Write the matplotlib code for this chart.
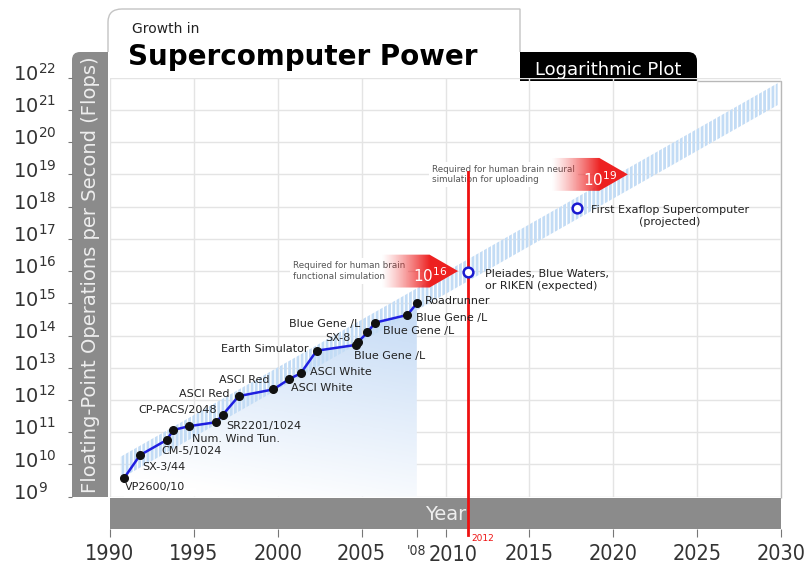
import numpy as np
import matplotlib
matplotlib.use("Agg")
import matplotlib.pyplot as plt
from matplotlib import font_manager
from matplotlib.patches import Polygon, PathPatch, Rectangle
from matplotlib.path import Path
from matplotlib.transforms import Affine2D, ScaledTranslation
from matplotlib.ticker import NullLocator

plt.rcParams["hatch.linewidth"] = 2.0

# supercomputer records (year, log10 flops)
years = [1990.83, 1991.79, 1993.38, 1993.78, 1994.73, 1996.32, 1996.72, 1997.67, 1999.74,
         2000.69, 2001.37, 2002.32, 2004.67, 2004.81, 2005.35, 2005.80, 2007.73, 2008.29]
log_flops = [9.57, 10.29, 10.76, 11.07, 11.19, 11.31, 11.54, 12.12, 12.33,
             12.65, 12.83, 13.53, 13.71, 13.81, 14.10, 14.40, 14.64, 15.00]

# (point index, text, ha, dx, dy) offsets in pixels
point_labels = [
    (0, "VP2600/10", "left", 1, -9),
    (1, "SX-3/44", "left", 2, -12),
    (2, "CM-5/1024", "left", -5, -11),
    (4, "Num. Wind Tun.", "left", 3, -13),
    (5, "SR2201/1024", "left", 10, -4),
    (6, "CP-PACS/2048", "right", -6, 5),
    (7, "ASCI Red", "right", -9, 2),
    (8, "ASCI Red", "right", -4, 9),
    (9, "ASCI White", "left", 2, -9),
    (10, "ASCI White", "left", 9, 1),
    (11, "Earth Simulator", "right", -8, 2),
    (12, "Blue Gene /L", "left", -2, -11),
    (13, "SX-8", "right", -8, 4),
    (14, "Blue Gene /L", "right", -7, 8),
    (15, "Blue Gene /L", "left", 8, -8),
    (16, "Blue Gene /L", "left", 9, -3),
    (17, "Roadrunner", "left", 8, 2),
]

future_years = [2011.37, 2017.83]
future_log = [15.97, 17.95]
future_labels = ["Pleiades, Blue Waters,\nor RIKEN (expected)",
                 "First Exaflop Supercomputer\n(projected)"]
future_offsets = [(17, -8), (14, -8)]

brain_levels = [16, 19]
brain_tips = [2010.75, 2020.87]
brain_texts = ["Required for human brain\nfunctional simulation",
               "Required for human brain neural\nsimulation for uploading"]

trend_years = [1990.6, 2029.8]
trend_log = [9.89, 21.49]

milestone_year = 2011.37
milestone_label = "2012"

x_ticks = list(range(1990, 2031, 5))
y_exps = list(range(9, 23))

W, H = 805, 568
fig = plt.figure(figsize=(W / 100, H / 100), dpi=100)
fig.patch.set_facecolor("white")
px = Affine2D().scale(1 / W, -1 / H).translate(0, 1) + fig.transFigure

# frame decorations
title_box = Path([(108, 52), (108, 22), (108, 9), (122, 9), (520, 9), (520, 52)],
                 [Path.MOVETO, Path.LINETO, Path.CURVE3, Path.CURVE3, Path.LINETO, Path.LINETO])
fig.patches.append(PathPatch(title_box, transform=px, fc="white", ec="#c4c4c4", lw=1, zorder=-2))
tab = Path([(520, 81), (520, 52), (688, 52), (697, 52), (697, 61), (697, 81), (520, 81)],
           [Path.MOVETO, Path.LINETO, Path.LINETO, Path.CURVE3, Path.CURVE3, Path.LINETO, Path.CLOSEPOLY])
fig.patches.append(PathPatch(tab, transform=px, fc="black", ec="none", zorder=-1))
ybar = Path([(72, 497), (72, 60), (72, 52), (80, 52), (108, 52), (108, 497), (72, 497)],
            [Path.MOVETO, Path.LINETO, Path.CURVE3, Path.CURVE3, Path.LINETO, Path.LINETO, Path.CLOSEPOLY])
fig.patches.append(PathPatch(ybar, transform=px, fc="#8b8b8b", ec="none", zorder=-1))
fig.patches.append(Rectangle((110, 498), 671, 31.3, transform=px, fc="#8b8b8b", ec="none", zorder=-1))
border = Path([(697, 81), (781, 81), (781, 498)])
fig.patches.append(PathPatch(border, transform=px, fc="none", ec="#b8b8b8", lw=1, zorder=-1))

fig.text(132, 33, "Growth in", transform=px, fontsize=10, color="#222222", va="baseline")
fig.text(128, 65, "Supercomputer Power", transform=px, fontsize=20, fontweight="bold",
         color="black", va="baseline")
fig.text(608, 75, "Logarithmic Plot", transform=px, fontsize=13, color="white",
         ha="center", va="baseline")
fig.text(90, 275, "Floating-Point Operations per Second (Flops)", transform=px, fontsize=14,
         color="#eeeeee", rotation=90, ha="center", va="center")

ax = fig.add_axes([110 / W, (H - 496.7) / H, 671 / W, 419 / H])
ax.set_facecolor("none")
ax.set_yscale("log")
ax.set_xlim(1990, 2030)
ax.set_ylim(1e9, 1e22)
for s in ax.spines.values():
    s.set_visible(False)
ax.spines["left"].set_position(("outward", 27.4))
ax.spines["bottom"].set_position(("outward", 23.4))

ax.set_yticks([10.0 ** k for k in y_exps])
ax.yaxis.set_minor_locator(NullLocator())
ax.tick_params(axis="y", labelleft=False, length=3, width=0.8, color="#777777")

# narrow upright face for the year labels, if one is installed
fonts = font_manager.fontManager.ttflist
narrow = [f for f in fonts if f.name == "Liberation Sans Narrow" and f.style == "normal"
          and f.weight in ("normal", 400, "regular", "book")]
cond = [f for f in fonts if f.name == "DejaVu Sans" and f.style == "normal"
        and f.stretch in ("condensed", "semi-condensed", 87.5)
        and f.weight in ("normal", 400, "regular", "book")]
if narrow:
    tick_fp = font_manager.FontProperties(fname=narrow[0].fname)
    tick_size = 16.5
elif cond:
    tick_fp = font_manager.FontProperties(fname=cond[0].fname)
    tick_size = 15.5
else:
    tick_fp = font_manager.FontProperties(family="DejaVu Sans")
    tick_size = 13
tick_fp.set_size(tick_size)
small_fp = tick_fp.copy()
small_fp.set_size(10)

ax.set_xticks(x_ticks, labels=["" if t == 2010 else str(t) for t in x_ticks])
ax.set_xticks([2008.3], labels=["'08"], minor=True)
ax.tick_params(axis="x", which="both", length=6, width=0.8, color="#777777", pad=5,
               labelcolor="#333333")
for lbl in ax.get_xticklabels():
    lbl.set_fontproperties(tick_fp)
for lbl in ax.get_xticklabels(minor=True):
    lbl.set_fontproperties(small_fp)
ax.text(2010, 0, "2010", transform=ax.get_xaxis_transform()
        + ScaledTranslation(8 / 100, -48 / 100, fig.dpi_scale_trans),
        ha="center", va="top", fontproperties=tick_fp, color="#333333")

ylab_tr = ax.get_yaxis_transform() + ScaledTranslation(-97 / 100, -3 / 100, fig.dpi_scale_trans)
for k in y_exps:
    ax.text(0, 10.0 ** k, f"$10^{{{k}}}$", transform=ylab_tr, ha="left", va="baseline",
            fontsize=14, color="#333333")

ax.grid(True, which="major", color="#e4e4e4", lw=1)
ax.set_axisbelow(True)

flops = [10.0 ** v for v in log_flops]

# gradient fill under the record line
fill_poly = Polygon([(years[0], 1e9)] + list(zip(years, flops)) + [(years[-1], 1e9)],
                    closed=True, fc="none", ec="none")
ax.add_patch(fill_poly)
u, v = np.meshgrid(np.linspace(0, 1, 200), np.linspace(1, 0, 200))
f = np.clip(1.8 * v + 0.5 * u - 0.1, 0, 1)[..., None]
blue = np.array([0.76, 0.85, 0.96])
grad = (1 - f) * np.ones(3) + f * blue
im = ax.imshow(grad, extent=(0, 1, 0, 1), transform=ax.transAxes, aspect="auto", zorder=1)
im.set_clip_path(fill_poly)

# hatched trend band
h = 0.34
band = Polygon([(trend_years[0], 10 ** (trend_log[0] - h)), (trend_years[1], 10 ** (trend_log[1] - h)),
                (trend_years[1], 10 ** (trend_log[1] + h)), (trend_years[0], 10 ** (trend_log[0] + h))],
               closed=True, fill=False, hatch="||||", ec="#c3dcf5", lw=0, zorder=1.5)
ax.add_patch(band)

# brain requirement arrows
red = np.array([0.93, 0.13, 0.13])
for lvl, tip, txt in zip(brain_levels, brain_tips, brain_texts):
    start, flat, hh = tip - 4.6, tip - 1.7, 0.51
    arrow = Polygon([(start, 10 ** (lvl - hh)), (flat, 10 ** (lvl - hh)), (tip, 10.0 ** lvl),
                     (flat, 10 ** (lvl + hh)), (start, 10 ** (lvl + hh))],
                    closed=True, fc="none", ec="none")
    ax.add_patch(arrow)
    img = np.zeros((1, 256, 4))
    img[..., :3] = red
    img[..., 3] = np.clip(np.linspace(0, 1, 256) / 0.63, 0, 1) ** 1.2
    aim = ax.imshow(img, extent=(start, tip, 0, 1), transform=ax.get_xaxis_transform(),
                    aspect="auto", zorder=2.5)
    aim.set_clip_path(arrow)
    ax.annotate(f"$10^{{{lvl}}}$", xy=(tip, 10.0 ** lvl), textcoords="offset pixels",
                xytext=(-28, -5), ha="center", va="center", color="white", fontsize=11, zorder=2.6)
    ax.annotate(txt, xy=(tip, 10.0 ** lvl), textcoords="offset pixels", xytext=(-53, 0),
                ha="right", va="center", multialignment="left", fontsize=6.3, color="#555555",
                linespacing=1.25, zorder=2,
                bbox=dict(fc="white", ec="none", pad=2))

# 2012 marker line
ax.axvline(milestone_year, ymin=-0.0914, ymax=0.775, color="#ee1111", lw=2, clip_on=False, zorder=3)
ax.annotate(milestone_label, xy=(milestone_year, 0), xycoords=("data", "axes fraction"),
            textcoords="offset pixels", xytext=(3, -42), ha="left", va="center",
            color="#ee1111", fontsize=6.5, annotation_clip=False)

# record line
ax.plot(years, flops, color="#1f1fe0", lw=1.8, zorder=4)
ax.plot(years, flops, "o", ms=5.5, color="#111111", zorder=5)
for i, txt, ha, dx, dy in point_labels:
    ax.annotate(txt, xy=(years[i], flops[i]), textcoords="offset pixels", xytext=(dx, dy),
                ha=ha, va="center", fontsize=8, color="#222222", zorder=6)

ax.plot(future_years, [10.0 ** v for v in future_log], "o", ms=7, mfc="white", mec="#1a1ad0",
        mew=1.8, zorder=5)
for yr, lv, txt, (dx, dy) in zip(future_years, future_log, future_labels, future_offsets):
    ax.annotate(txt, xy=(yr, 10.0 ** lv), textcoords="offset pixels", xytext=(dx, dy),
                ha="left", va="center", multialignment="center" if "Exaflop" in txt else "left",
                fontsize=8, color="#222222", zorder=6)

ax.text(0.5, -0.0425, "Year", transform=ax.transAxes, ha="center", va="center",
        fontsize=14, color="#eeeeee")

ax.set_xlim(1990, 2030)
ax.set_ylim(1e9, 1e22)
fig.savefig("out.png", dpi=100)
